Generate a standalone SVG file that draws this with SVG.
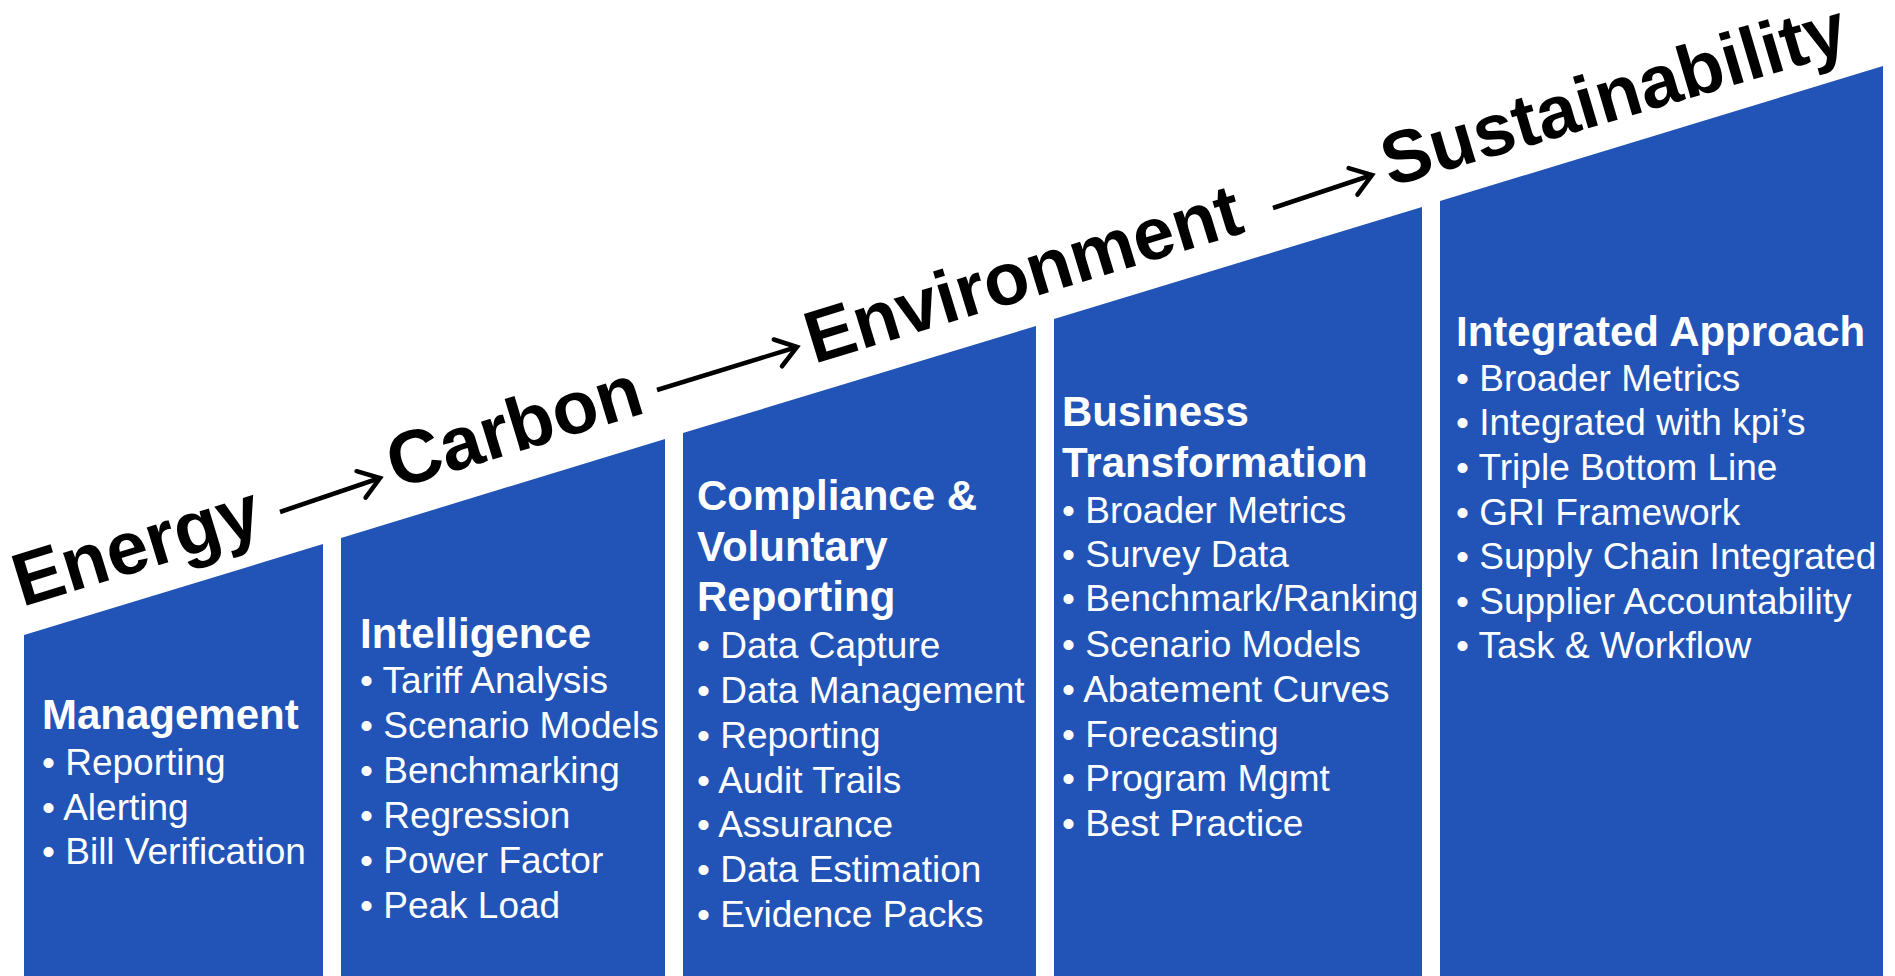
<svg xmlns="http://www.w3.org/2000/svg" width="1895" height="976" viewBox="0 0 1895 976">
<defs>
<style>
.col{fill:#2254b8}
.title{font-family:"Liberation Sans",Arial,sans-serif;font-weight:bold;fill:#000}
.h{font-family:"Liberation Sans",Arial,sans-serif;font-weight:bold;font-size:42px;fill:#fff}
.b{font-family:"Liberation Sans",Arial,sans-serif;font-size:37px;fill:#fff}
.arrow{stroke:#000;stroke-width:4.5;fill:none;marker-end:url(#head)}
</style>
<marker id="head" markerUnits="userSpaceOnUse" viewBox="-30 -20 36 40" refX="0" refY="0" markerWidth="36" markerHeight="40" orient="auto" overflow="visible">
<path d="M-20,-14 L0,0 L-20,14" fill="none" stroke="#000" stroke-width="4.5" stroke-linecap="round" stroke-linejoin="miter"/>
</marker>
</defs>
<rect width="1895" height="976" fill="#fff"/>

<g id="col-management">
<polygon class="col" points="24,635 323,544 323,976 24,976"/>
<text class="h" x="42" y="729">Management</text>
<text class="b" x="42" y="775">• Reporting</text>
<text class="b" x="42" y="820">• Alerting</text>
<text class="b" x="42" y="864">• Bill Verification</text>
</g>

<g id="col-intelligence">
<polygon class="col" points="341,538 665,439 665,976 341,976"/>
<text class="h" x="360" y="648">Intelligence</text>
<text class="b" x="360" y="693">• Tariff Analysis</text>
<text class="b" x="360" y="738">• Scenario Models</text>
<text class="b" x="360" y="783">• Benchmarking</text>
<text class="b" x="360" y="828">• Regression</text>
<text class="b" x="360" y="873">• Power Factor</text>
<text class="b" x="360" y="918">• Peak Load</text>
</g>

<g id="col-compliance">
<polygon class="col" points="683,433 1036,326 1036,976 683,976"/>
<text class="h" x="697" y="510">Compliance &amp;</text>
<text class="h" x="697" y="561">Voluntary</text>
<text class="h" x="697" y="611">Reporting</text>
<text class="b" x="697" y="658">• Data Capture</text>
<text class="b" x="697" y="703">• Data Management</text>
<text class="b" x="697" y="748">• Reporting</text>
<text class="b" x="697" y="793">• Audit Trails</text>
<text class="b" x="697" y="837">• Assurance</text>
<text class="b" x="697" y="882">• Data Estimation</text>
<text class="b" x="697" y="927">• Evidence Packs</text>
</g>

<g id="col-business">
<polygon class="col" points="1054,319 1422,207 1422,976 1054,976"/>
<text class="h" x="1062" y="426">Business</text>
<text class="h" x="1062" y="477">Transformation</text>
<text class="b" x="1062" y="523">• Broader Metrics</text>
<text class="b" x="1062" y="567">• Survey Data</text>
<text class="b" x="1062" y="611">• Benchmark/Ranking</text>
<text class="b" x="1062" y="657">• Scenario Models</text>
<text class="b" x="1062" y="702">• Abatement Curves</text>
<text class="b" x="1062" y="747">• Forecasting</text>
<text class="b" x="1062" y="791">• Program Mgmt</text>
<text class="b" x="1062" y="836">• Best Practice</text>
</g>

<g id="col-integrated">
<polygon class="col" points="1440,201 1883,66 1883,976 1440,976"/>
<text class="h" x="1456" y="346">Integrated Approach</text>
<text class="b" x="1456" y="391">• Broader Metrics</text>
<text class="b" x="1456" y="435">• Integrated with kpi’s</text>
<text class="b" x="1456" y="480">• Triple Bottom Line</text>
<text class="b" x="1456" y="525">• GRI Framework</text>
<text class="b" x="1456" y="569">• Supply Chain Integrated</text>
<text class="b" x="1456" y="614">• Supplier Accountability</text>
<text class="b" x="1456" y="658">• Task &amp; Workflow</text>
</g>

<g id="title-energy"><text class="title" font-size="75" transform="translate(22,607) rotate(-17)">Energy</text></g>
<g id="title-carbon"><text class="title" font-size="75" transform="translate(396,489) rotate(-17)">Carbon</text></g>
<g id="title-environment"><text class="title" font-size="74" transform="translate(814,364) rotate(-17)">Environment</text></g>
<g id="title-sustainability"><text class="title" font-size="74" transform="translate(1390,187) rotate(-16.5)">Sustainability</text></g>

<g id="connectors">
<line class="arrow" x1="280" y1="512" x2="380" y2="478"/>
<line class="arrow" x1="657" y1="390" x2="797" y2="347"/>
<line class="arrow" x1="1273" y1="208" x2="1372" y2="175"/>
</g>
</svg>
